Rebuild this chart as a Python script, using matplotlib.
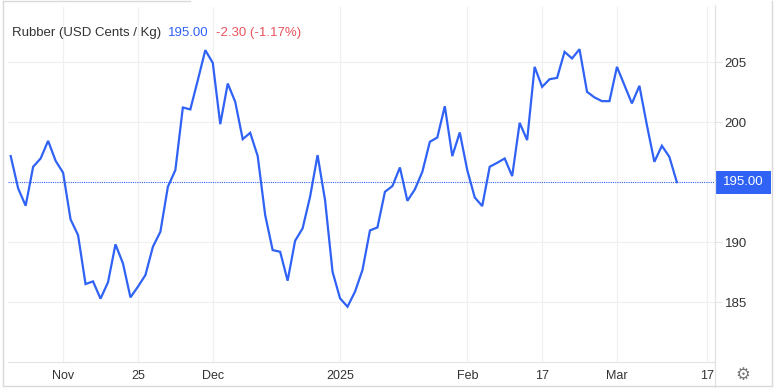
import matplotlib
matplotlib.use("Agg")
import matplotlib.pyplot as plt
from matplotlib.lines import Line2D
from matplotlib.patches import Rectangle
import matplotlib.transforms as mtransforms

# ---- data (one value per trading day) ----
prices = [197.17, 194.47, 193.03, 196.28, 196.97, 198.44, 196.78, 195.78, 191.89, 190.58,
          186.50, 186.72, 185.28, 186.64, 189.81, 188.22, 185.39, 186.28, 187.25, 189.61,
          190.86, 194.61, 196.00, 201.22, 201.06, 203.50, 206.00, 204.94, 199.83, 203.22,
          201.69, 198.58, 199.11, 197.17, 192.25, 189.33, 189.19, 186.78, 190.11, 191.14,
          193.78, 197.25, 193.50, 187.53, 185.31, 184.61, 185.86, 187.67, 190.97, 191.22,
          194.19, 194.67, 196.22, 193.44, 194.39, 195.86, 198.36, 198.72, 201.33, 197.17,
          199.14, 196.00, 193.72, 193.00, 196.28, 196.61, 196.97, 195.50, 199.94, 198.50,
          204.61, 202.94, 203.58, 203.69, 205.86, 205.31, 206.08, 202.53, 202.06, 201.75,
          201.75, 204.61, 203.08, 201.56, 203.03, 199.75, 196.69, 198.03, 197.11, 195.00]
x_tick_pos = [7, 17, 27, 44, 61, 71, 81, 93]
x_tick_labels = ["Nov", "25", "Dec", "2025", "Feb", "17", "Mar", "17"]
y_ticks = [185, 190, 200, 205]
last_price = 195.00
change_text = "-2.30 (-1.17%)"
title = "Rubber (USD Cents / Kg)"

W, H = 782, 388
BLUE = "#2f62f5"
RED = "#e9545e"
GRID = "#f0f0f0"
TXT = "#333333"

plt.rcParams['font.family'] = ['Liberation Sans', 'DejaVu Sans']

fig = plt.figure(figsize=(W / 100, H / 100), dpi=100)
fig.patch.set_facecolor("white")

# axes in pixel terms: left 8, right 715, top 7, bottom 362
ax = fig.add_axes([8 / W, (H - 362) / H, (715 - 8) / W, (362 - 7) / H])
ax.plot(range(len(prices)), prices, color=BLUE, linewidth=1.6, solid_joinstyle="miter", zorder=3)
ax.axhline(last_price, color=BLUE, linestyle=(0, (1, 1)), linewidth=0.8, zorder=2)

ax.set_xlim(-0.36, 94.1)
ax.set_ylim(180, 209.6)

ax.set_xticks(x_tick_pos)
ax.set_xticklabels(x_tick_labels)
ax.yaxis.tick_right()
ax.set_yticks(y_ticks)
ax.tick_params(axis="x", length=0, pad=6, labelsize=9, labelcolor=TXT)
ax.tick_params(axis="y", length=5, width=0.8, color="#e6e6e6", pad=2, labelsize=9.5, labelcolor=TXT)
ax.grid(True, color=GRID, linewidth=0.9)
ax.set_axisbelow(True)

for side in ["top", "left"]:
    ax.spines[side].set_visible(False)
ax.spines["bottom"].set_color("#e3e3e3")
ax.spines["right"].set_visible(False)

# last price box on the right axis
trans = mtransforms.blended_transform_factory(ax.transAxes, ax.transData)
box_h = 23 / 12  # 23 px tall, 12 px per unit
ax.add_patch(Rectangle((1 + 1 / 707, last_price - box_h / 2), 55 / 707, box_h,
                       transform=trans, facecolor=BLUE, edgecolor="none", clip_on=False, zorder=5))
ax.text(1 + 28.5 / 707, last_price, f"{last_price:.2f}", transform=trans, color="white",
        fontsize=9.5, ha="center", va="center", zorder=6)

# separator and frame lines
fig.add_artist(Line2D([715 / W, 715 / W], [0, 1 - 5 / H], color="#e3e3e3", linewidth=0.9))
frame = dict(color="#d9d9d9", linewidth=1.0)
fig.add_artist(Line2D([3 / W, 3 / W], [2 / H, 1 - 1 / H], **frame))
fig.add_artist(Line2D([3 / W, 772 / W], [2 / H, 2 / H], **frame))
fig.add_artist(Line2D([772 / W, 772 / W], [2 / H, 1 - 1 / H], **frame))
fig.add_artist(Line2D([3 / W, 190 / W], [1 - 1 / H, 1 - 1 / H], **frame))

# title line built piece by piece
fig.canvas.draw()
renderer = fig.canvas.get_renderer()
x = 12
y = 1 - 33 / H
for s, c in [(title, TXT), (f"{last_price:.2f}", BLUE), (change_text, RED)]:
    t = fig.text(x / W, y, s, color=c, fontsize=9.5, va="center", ha="left")
    bb = t.get_window_extent(renderer)
    x = bb.x1 + 7

# settings gear
fig.text(743 / W, 1 - 375 / H, "\u2699", family="DejaVu Sans", fontsize=12, color="#777777",
         ha="center", va="center")

fig.savefig("out.png", dpi=100, facecolor="white")
